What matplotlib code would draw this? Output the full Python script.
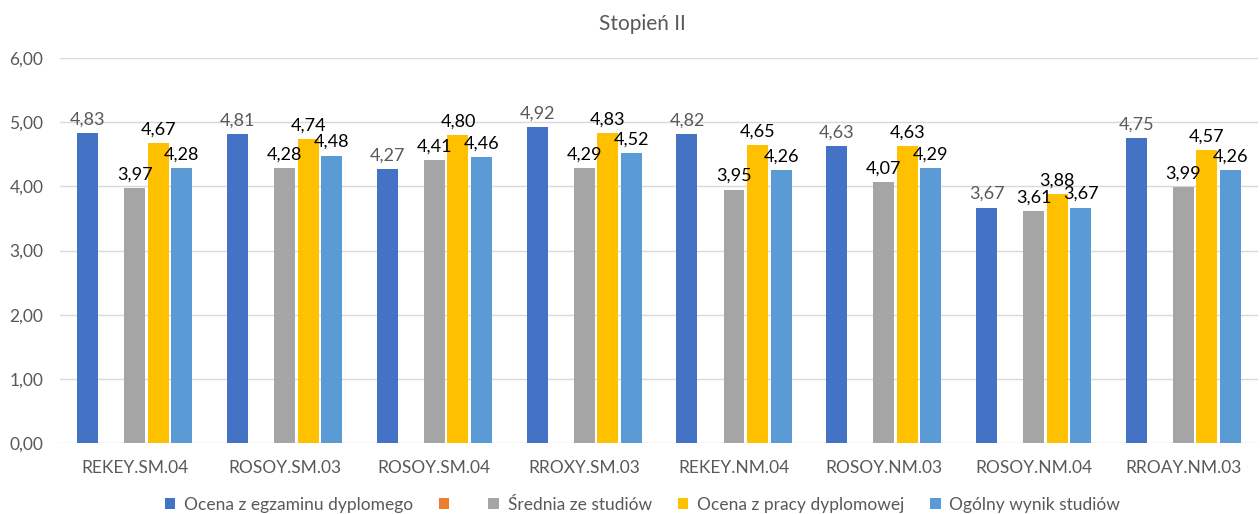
import matplotlib

matplotlib.use("Agg")
import matplotlib.pyplot as plt
import numpy as np
from matplotlib.patches import Patch

plt.rcParams["font.family"] = ["Lato", "DejaVu Sans"]

categories = ["REKEY.SM.04", "ROSOY.SM.03", "ROSOY.SM.04", "RROXY.SM.03",
              "REKEY.NM.04", "ROSOY.NM.03", "ROSOY.NM.04", "RROAY.NM.03"]

series_names = ["Ocena z egzaminu dyplomego", " ", "Średnia ze studiów",
                "Ocena z pracy dyplomowej", "Ogólny wynik studiów"]

egzamin = [4.83, 4.81, 4.27, 4.92, 4.82, 4.63, 3.67, 4.75]
pusta = [None] * 8
srednia = [3.97, 4.28, 4.41, 4.29, 3.95, 4.07, 3.61, 3.99]
praca = [4.67, 4.74, 4.80, 4.83, 4.65, 4.63, 3.88, 4.57]
ogolny = [4.28, 4.48, 4.46, 4.52, 4.26, 4.29, 3.67, 4.26]

colors = ["#4472C4", "#ED7D31", "#A5A5A5", "#FFC000", "#5B9BD5"]
label_colors = ["#595959", "#000000", "#000000", "#000000", "#000000"]

fig = plt.figure(figsize=(12.6, 5.14), dpi=100)
ax = fig.add_axes([0.0476, 0.138, 0.951, 0.749])

x = np.arange(len(categories))
step = 0.157
width = 0.14
all_series = [egzamin, pusta, srednia, praca, ogolny]

for i, vals in enumerate(all_series):
    offs = (i - 2) * step
    if all(v is None for v in vals):
        continue
    bars = ax.bar(x + offs, vals, width=width, color=colors[i], zorder=3)
    for b, v in zip(bars, vals):
        ax.annotate(f"{v:.2f}".replace(".", ","),
                    (b.get_x() + b.get_width() / 2, v),
                    xytext=(0, 4), textcoords="offset points",
                    ha="center", va="bottom", fontsize=13,
                    color=label_colors[i], zorder=4)

ax.set_xlim(-0.5, len(categories) - 0.5)
ax.set_ylim(0, 6)
ax.set_yticks(np.arange(0, 7, 1))
ax.set_yticklabels([f"{t:.2f}".replace(".", ",") for t in np.arange(0, 7, 1)])
ax.set_xticks(x)
ax.set_xticklabels(categories)
ax.tick_params(axis="both", length=0, labelsize=12.5, labelcolor="#595959")
ax.tick_params(axis="x", pad=12)
ax.tick_params(axis="y", pad=12)
ax.grid(axis="y", color="#D9D9D9", linewidth=1, zorder=0)
for s in ax.spines.values():
    s.set_visible(False)

ax.set_title("Stopień II", fontsize=15, color="#595959", pad=20, x=0.486)

handles = [Patch(facecolor=c) for c in colors]
ax.legend(handles, series_names, loc="center", bbox_to_anchor=(0.486, -0.16),
          ncol=5, frameon=False, fontsize=12.5, labelcolor="#595959",
          handlelength=0.6, handleheight=0.6, handletextpad=0.5,
          columnspacing=1.5)

fig.savefig("out.png", dpi=100)
